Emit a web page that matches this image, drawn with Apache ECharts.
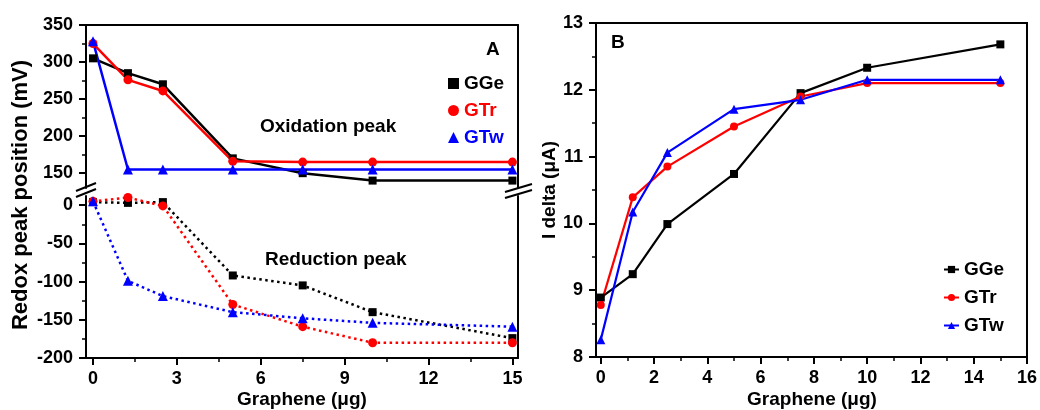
<!DOCTYPE html>
<html>
<head>
<meta charset="utf-8">
<script src="https://cdn.jsdelivr.net/npm/echarts@6/dist/echarts.min.js"></script>
<style>
  html, body { margin: 0; padding: 0; background: #fff; }
  #chart { width: 1040px; height: 410px; }
</style>
</head>
<body>
<div id="chart"></div>
<script>
// panel A: redox peak positions (mV)
var doseA = [0, 1.25, 2.5, 5, 7.5, 10, 15];
var oxGGe = [305, 285, 270, 170, 150, 140, 140];
var oxGTr = [325, 276, 261, 166, 165, 165, 165];
var oxGTw = [328, 155, 155, 155, 155, 155, 155];
var redGGe = [4, 3, 4, -92, -105, -140, -174];
var redGTr = [5, 10, -1, -130, -159, -180, -180];
var redGTw = [5, -99, -119, -140, -148, -154, -159];

// panel B: I delta (uA)
var doseB = [0, 1.2, 2.5, 5, 7.5, 10, 15];
var iGGe = [8.89, 9.24, 9.99, 10.74, 11.95, 12.33, 12.68];
var iGTr = [8.78, 10.39, 10.85, 11.45, 11.9, 12.1, 12.1];
var iGTw = [8.26, 10.17, 11.06, 11.71, 11.85, 12.15, 12.15];

// tick labels
var xTicksA = [0, 3, 6, 9, 12, 15];
var xMinorA = [1.5, 4.5, 7.5, 10.5, 13.5];
var yTicksOx = [150, 200, 250, 300, 350];
var yMinorOx = [175, 225, 275, 325];
var yTicksRed = [-200, -150, -100, -50, 0];
var yMinorRed = [-175, -125, -75, -25];
var xTicksB = [0, 2, 4, 6, 8, 10, 12, 14, 16];
var xMinorB = [1, 3, 5, 7, 9, 11, 13, 15];

var FONT = '"Liberation Sans", Arial, sans-serif';
var BLACK = '#000000', RED = '#ff0000', BLUE = '#0000ff';

function zip(xs, ys) {
  return xs.map(function (x, i) { return [x, ys[i]]; });
}

var labelStyle = { color: BLACK, fontSize: 18, fontWeight: 'bold', fontFamily: FONT };
var axisLine = { show: true, onZero: false, lineStyle: { color: BLACK, width: 2 } };

function mainAxis(extra) {
  var ax = {
    type: 'value',
    axisLine: axisLine,
    splitLine: { show: false },
    axisTick: { show: true, inside: false, length: 7, lineStyle: { color: BLACK, width: 2 } },
    axisLabel: Object.assign({ margin: 13 }, labelStyle)
  };
  return Object.assign(ax, extra);
}

function minorAxis(extra, ticks) {
  return Object.assign({
    type: 'value',
    axisLine: { show: false, onZero: false },
    splitLine: { show: false },
    axisLabel: { show: false },
    axisTick: { show: true, inside: false, length: 4, customValues: ticks, lineStyle: { color: BLACK, width: 1.5 } }
  }, extra);
}

function frameAxis(extra) {
  return Object.assign({
    type: 'value',
    axisLine: axisLine,
    splitLine: { show: false },
    axisLabel: { show: false },
    axisTick: { show: false }
  }, extra);
}

function line(name, data, color, symbol, size, xi, yi, dashed, width) {
  return {
    name: name,
    type: 'line',
    xAxisIndex: xi,
    yAxisIndex: yi,
    data: data,
    symbol: symbol,
    symbolSize: size,
    color: color,
    itemStyle: { color: color },
    lineStyle: { color: color, width: width, type: dashed ? [2.5, 3.5] : 'solid' },
    emphasis: { disabled: true }
  };
}

function text(str, x, y, extra) {
  return Object.assign({
    type: 'text',
    x: x,
    y: y,
    style: { text: str, font: 'bold 19px ' + FONT, fill: BLACK, align: 'left', verticalAlign: 'middle' }
  }, extra || {});
}

function title(str, x, y, size, rotate) {
  return {
    type: 'text',
    x: x,
    y: y,
    rotation: rotate ? Math.PI / 2 : 0,
    style: { text: str, font: 'bold ' + size + 'px ' + FONT, fill: BLACK, align: 'center', verticalAlign: 'middle' }
  };
}

function seg(x1, y1, x2, y2) {
  return { type: 'line', shape: { x1: x1, y1: y1, x2: x2, y2: y2 }, style: { stroke: BLACK, lineWidth: 2 } };
}

var option = {
  animation: false,
  backgroundColor: '#ffffff',
  grid: [
    { left: 86, top: 25, width: 432, height: 163 },
    { left: 86, top: 196, width: 432, height: 162 },
    { left: 596, top: 23, width: 432, height: 334, show: true, borderColor: BLACK, borderWidth: 2 }
  ],
  xAxis: [
    frameAxis({ gridIndex: 0, position: 'top', min: -0.25, max: 15.2 }),
    mainAxis({ gridIndex: 1, position: 'bottom', min: -0.25, max: 15.2,
      axisTick: { show: true, inside: false, length: 7, customValues: xTicksA, lineStyle: { color: BLACK, width: 2 } },
      axisLabel: Object.assign({ margin: 12, customValues: xTicksA }, labelStyle) }),
    minorAxis({ gridIndex: 1, position: 'bottom', min: -0.25, max: 15.2 }, xMinorA),
    mainAxis({ gridIndex: 2, position: 'bottom', min: -0.18, max: 16,
      axisTick: { show: true, inside: false, length: 7, customValues: xTicksB, lineStyle: { color: BLACK, width: 2 } },
      axisLabel: Object.assign({ margin: 12, customValues: xTicksB }, labelStyle) }),
    minorAxis({ gridIndex: 2, position: 'bottom', min: -0.18, max: 16 }, xMinorB)
  ],
  yAxis: [
    mainAxis({ gridIndex: 0, position: 'left', min: 130, max: 350,
      axisTick: { show: true, inside: false, length: 7, customValues: yTicksOx, lineStyle: { color: BLACK, width: 2 } },
      axisLabel: Object.assign({ margin: 13, customValues: yTicksOx }, labelStyle) }),
    minorAxis({ gridIndex: 0, position: 'left', min: 130, max: 350 }, yMinorOx),
    frameAxis({ gridIndex: 0, position: 'right', min: 130, max: 350 }),
    mainAxis({ gridIndex: 1, position: 'left', min: -200, max: 12,
      axisTick: { show: true, inside: false, length: 7, customValues: yTicksRed, lineStyle: { color: BLACK, width: 2 } },
      axisLabel: Object.assign({ margin: 13, customValues: yTicksRed }, labelStyle) }),
    minorAxis({ gridIndex: 1, position: 'left', min: -200, max: 12 }, yMinorRed),
    frameAxis({ gridIndex: 1, position: 'right', min: -200, max: 12 }),
    mainAxis({ gridIndex: 2, position: 'left', min: 8, max: 13, interval: 1,
      minorTick: { show: true, splitNumber: 2, length: 4, lineStyle: { color: BLACK, width: 1.5 } } })
  ],
  legend: [
    {
      orient: 'vertical', left: 443, top: 69, itemGap: 8, itemWidth: 11, itemHeight: 11,
      textStyle: { fontSize: 19, fontWeight: 'bold', fontFamily: FONT },
      selectedMode: false,
      data: [
        { name: 'GGe', icon: 'rect', textStyle: { color: BLACK } },
        { name: 'GTr', icon: 'circle', textStyle: { color: RED } },
        { name: 'GTw', icon: 'triangle', textStyle: { color: BLUE } }
      ]
    },
    {
      orient: 'vertical', left: 938, top: 255, itemGap: 9, itemWidth: 15, itemHeight: 9,
      textStyle: { fontSize: 19, fontWeight: 'bold', fontFamily: FONT, color: BLACK },
      selectedMode: false,
      data: ['GGe', 'GTr', 'GTw']
    }
  ],
  graphic: [
    title('Redox peak position (mV)', 21, 195, 22, true),
    title('Graphene (\u03bcg)', 302, 400, 19, false),
    title('I delta (\u03bcA)', 550, 190, 19, true),
    title('Graphene (\u03bcg)', 812, 400, 19, false),
    text('A', 486, 50),
    text('B', 611, 43),
    text('Oxidation peak', 260, 127),
    text('Reduction peak', 265, 260),
    // axis break marks
    seg(76, 191, 96, 183),
    seg(76, 197, 96, 189),
    seg(505, 192, 532, 184),
    seg(505, 198, 532, 190)
  ],
  series: [
    line('GGe', zip(doseA, oxGGe), BLACK, 'rect', 8, 0, 0, false, 2.5),
    line('GTr', zip(doseA, oxGTr), RED, 'circle', 9, 0, 0, false, 2.5),
    line('GTw', zip(doseA, oxGTw), BLUE, 'triangle', 10, 0, 0, false, 2.5),
    line('GGe', zip(doseA, redGGe), BLACK, 'rect', 8, 1, 3, true, 2.5),
    line('GTr', zip(doseA, redGTr), RED, 'circle', 9, 1, 3, true, 2.5),
    line('GTw', zip(doseA, redGTw), BLUE, 'triangle', 10, 1, 3, true, 2.5),
    line('GGe', zip(doseB, iGGe), BLACK, 'rect', 8, 3, 6, false, 2.2),
    line('GTr', zip(doseB, iGTr), RED, 'circle', 8, 3, 6, false, 2.2),
    line('GTw', zip(doseB, iGTw), BLUE, 'triangle', 9, 3, 6, false, 2.2)
  ]
};

var myChart = echarts.init(document.getElementById('chart'));
myChart.setOption(option);
window.addEventListener('resize', function () {
  myChart.resize();
});
</script>
</body>
</html>
